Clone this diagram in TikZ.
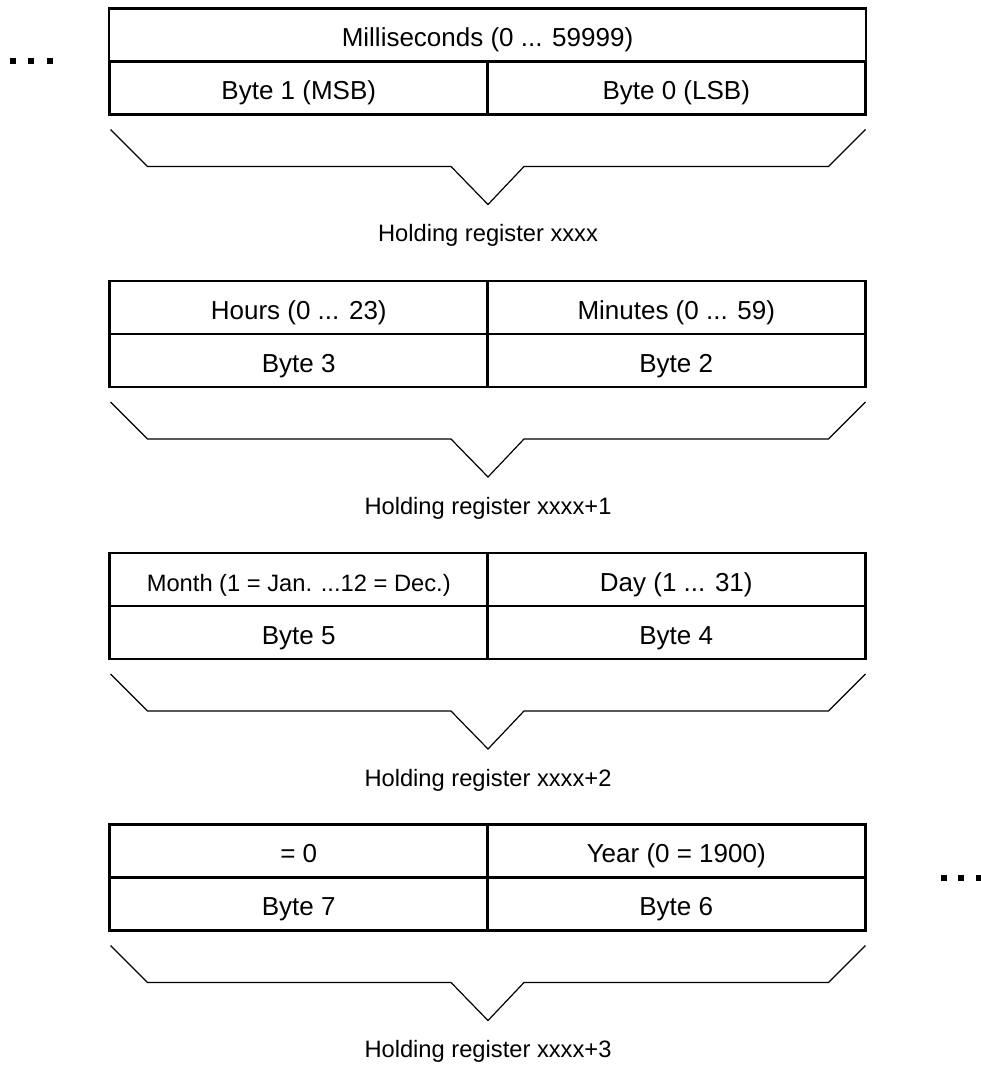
\documentclass[tikz,border=0pt]{standalone}
\usepackage{fontspec}
\setmainfont{Liberation Sans}
\usetikzlibrary{calc}
\begin{document}
\begin{tikzpicture}[x=1pt,y=-1pt,
  cell/.style={draw, line width=2.8pt, minimum width=378.5pt, minimum height=53pt,
    inner sep=0pt, outer sep=0pt, font=\fontsize{26}{30}\selectfont, text height=23pt, text depth=0pt},
  wide/.style={cell, minimum width=757pt},
  smalltext/.style={font=\fontsize{23.7}{28}\selectfont},
  reglabel/.style={font=\fontsize{23.7}{28}\selectfont, inner sep=0pt},
  brace/.style={line width=1.2pt, line join=miter},
  dotsq/.style={fill=black, minimum size=6pt, inner sep=0pt, outer sep=0pt}]
\useasboundingbox (0,0) rectangle (980,1065);

% ---------- block 1 ----------
\node[wide] (m1) at (487.5,35) {Milliseconds (0 ... 59999)};
\node[cell] (b1l) at (298.75,88) {Byte 1 (MSB)};
\node[cell] (b1r) at (676.25,88) {Byte 0 (LSB)};
\draw[brace] ($(b1l.south west)+(1,15)$) -- ++(37,37) -- ($(b1l.south east)+(-37,52)$)
  -- ($(b1l.south east)+(0,90)$) coordinate (t1) -- ($(b1r.south west)+(37,52)$)
  -- ($(b1r.south east)+(-37,52)$) -- ($(b1r.south east)+(0,15)$);
\node[reglabel] (r1) at ($(b1l.south east)+(0,121)$) {Holding register xxxx};

% ---------- block 2 ----------
\node[cell] (h2) at (298.75,307.5) {Hours (0 ... 23)};
\node[cell] (n2) at (676.25,307.5) {Minutes (0 ... 59)};
\node[cell] (b2l) at (298.75,360.5) {Byte 3};
\node[cell] (b2r) at (676.25,360.5) {Byte 2};
\draw[brace] ($(b2l.south west)+(1,15)$) -- ++(37,37) -- ($(b2l.south east)+(-37,52)$)
  -- ($(b2l.south east)+(0,90)$) coordinate (t2) -- ($(b2r.south west)+(37,52)$)
  -- ($(b2r.south east)+(-37,52)$) -- ($(b2r.south east)+(0,15)$);
\node[reglabel] (r2) at ($(b2l.south east)+(0,121)$) {Holding register xxxx+1};

% ---------- block 3 ----------
\node[cell, smalltext] (h3) at (298.75,579.5) {Month (1 = Jan. ...12 = Dec.)};
\node[cell] (n3) at (676.25,579.5) {Day (1 ... 31)};
\node[cell] (b3l) at (298.75,632.5) {Byte 5};
\node[cell] (b3r) at (676.25,632.5) {Byte 4};
\draw[brace] ($(b3l.south west)+(1,15)$) -- ++(37,37) -- ($(b3l.south east)+(-37,52)$)
  -- ($(b3l.south east)+(0,90)$) coordinate (t3) -- ($(b3r.south west)+(37,52)$)
  -- ($(b3r.south east)+(-37,52)$) -- ($(b3r.south east)+(0,15)$);
\node[reglabel] (r3) at ($(b3l.south east)+(0,121)$) {Holding register xxxx+2};

% ---------- block 4 ----------
\node[cell] (h4) at (298.75,851) {= 0};
\node[cell] (n4) at (676.25,851) {Year (0 = 1900)};
\node[cell] (b4l) at (298.75,904) {Byte 7};
\node[cell] (b4r) at (676.25,904) {Byte 6};
\draw[brace] ($(b4l.south west)+(1,15)$) -- ++(37,37) -- ($(b4l.south east)+(-37,52)$)
  -- ($(b4l.south east)+(0,90)$) coordinate (t4) -- ($(b4r.south west)+(37,52)$)
  -- ($(b4r.south east)+(-37,52)$) -- ($(b4r.south east)+(0,15)$);
\node[reglabel] (r4) at ($(b4l.south east)+(0,121)$) {Holding register xxxx+3};

% ---------- continuation dots ----------
\node[dotsq] (dl1) at (12.5,61.5) {};
\node[dotsq] (dl2) at (31,61.5) {};
\node[dotsq] (dl3) at (49.5,61.5) {};
\node[dotsq] (dr1) at (943.5,877.5) {};
\node[dotsq] (dr2) at (961,877.5) {};
\node[dotsq] (dr3) at (978.5,877.5) {};
\end{tikzpicture}
\end{document}
